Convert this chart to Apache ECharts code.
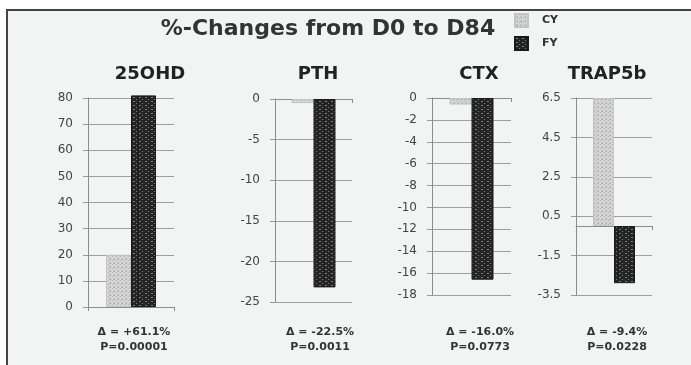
<!DOCTYPE html>
<html>
<head>
<meta charset="utf-8">
<script src="https://cdn.jsdelivr.net/npm/echarts@6/dist/echarts.min.js"></script>
<style>
  html, body { margin: 0; padding: 0; background: #fff; overflow: hidden; width: 691px; height: 365px; }
  #frame {
    position: absolute; left: 6px; top: 9px; right: -30px; bottom: -30px;
    background: #f2f3f3; border-left: 2px solid #444; border-top: 2px solid #444;
    border-right: none; border-bottom: none;
  }
  #chart { position: absolute; left: 0; top: 0; width: 691px; height: 365px; }
</style>
</head>
<body>
<div id="frame"></div>
<div id="chart"></div>
<script>
// panels and values (% change D0 -> D84)
const markers = ["25OHD", "PTH", "CTX", "TRAP5b"];
const cyValues = [20, -0.5, -0.6, 6.5];
const fyValues = [81, -23.2, -16.6, -2.9];
const deltas = ["+61.1%", "-22.5%", "-16.0%", "-9.4%"];
const pValues = ["0.00001", "0.0011", "0.0773", "0.0228"];
const axisMin = [0, -25, -18, -3.5];
const axisMax = [80, 0, 0, 6.5];
const axisStep = [10, 5, 2, 2];

// layout per panel
const grids = [
	{ left: 88, width: 86, top: 98, height: 209 },
	{ left: 275, width: 77, top: 99, height: 203 },
	{ left: 432, width: 79, top: 98, height: 197 },
	{ left: 576, width: 76, top: 98, height: 197 }
];
const barWidths = [25, 22, 22, 21];
const titleX = [150, 318, 479, 607];
const noteX = [134, 320, 480, 617];

function makePattern(w, h, bg, fg, dots) {
	const c = document.createElement("canvas");
	c.width = w; c.height = h;
	const ctx = c.getContext("2d");
	ctx.fillStyle = bg;
	ctx.fillRect(0, 0, w, h);
	ctx.fillStyle = fg;
	dots.forEach(d => ctx.fillRect(d[0], d[1], d[2], d[3]));
	return c;
}

const cyFill = {
	image: makePattern(4, 4, "#d4d4d4", "#b4b4b4", [[0, 0, 1, 1], [2, 2, 1, 1], [1, 3, 2, 1]]),
	repeat: "repeat"
};
const fyFill = {
	image: makePattern(6, 4, "#242424", "#7c7c7c", [[1, 1, 2, 1], [4, 3, 1, 1]]),
	repeat: "repeat"
};

const chart = echarts.init(document.getElementById("chart"));

const titles = [{
	text: "%-Changes from D0 to D84",
	left: 328, top: 18, textAlign: "center", padding: 0,
	textStyle: { fontFamily: "DejaVu Sans", fontSize: 22, fontWeight: "bold", color: "#333" }
}];
markers.forEach((m, i) => {
	titles.push({
		text: m, left: titleX[i], top: 65, textAlign: "center", padding: 0,
		textStyle: { fontFamily: "DejaVu Sans", fontSize: 18, fontWeight: "bold", color: "#222" }
	});
	titles.push({
		text: "Δ = " + deltas[i] + "\nP=" + pValues[i],
		left: noteX[i], top: 325, textAlign: "center", padding: 0,
		textStyle: { fontFamily: "DejaVu Sans", fontSize: 11, fontWeight: "bold", color: "#333", lineHeight: 15 }
	});
});

const xAxes = [], yAxes = [], series = [];
markers.forEach((m, i) => {
	xAxes.push({
		type: "category", gridIndex: i, data: [""],
		axisLine: { onZero: true, lineStyle: { color: "#8c8c8c" } },
		axisTick: { show: true, length: 4, lineStyle: { color: "#8c8c8c" } },
		axisLabel: { show: false }
	});
	yAxes.push({
		type: "value", gridIndex: i,
		min: axisMin[i], max: axisMax[i], interval: axisStep[i],
		axisLine: { show: true, lineStyle: { color: "#8c8c8c" } },
		axisTick: { show: true, length: 5, lineStyle: { color: "#9a9a9a" } },
		axisLabel: { fontFamily: "DejaVu Sans", fontSize: 12, color: "#444", margin: 15 },
		splitLine: { lineStyle: { color: "#9f9f9f" } }
	});
	series.push({
		name: "CY", type: "bar", xAxisIndex: i, yAxisIndex: i,
		data: [cyValues[i]], barWidth: barWidths[i], barGap: "0%", clip: false,
		itemStyle: { color: cyFill, borderColor: "#c4c4c4", borderWidth: 1 }
	});
	series.push({
		name: "FY", type: "bar", xAxisIndex: i, yAxisIndex: i,
		data: [fyValues[i]], barWidth: barWidths[i], barGap: "0%", clip: false,
		itemStyle: { color: fyFill, borderColor: "#1a1a1a", borderWidth: 1 }
	});
});

const option = {
	animation: false,
	title: titles,
	legend: {
		orient: "vertical", left: 514, top: 13, padding: 0,
		icon: "rect", itemWidth: 13, itemHeight: 13, itemGap: 8,
		data: ["CY", "FY"],
		textStyle: { fontFamily: "DejaVu Sans", fontSize: 11, fontWeight: "bold", color: "#333", padding: [0, 0, 0, 9] }
	},
	grid: grids,
	xAxis: xAxes,
	yAxis: yAxes,
	series: series
};

chart.setOption(option);
window.onresize = chart.resize;
</script>
</body>
</html>
